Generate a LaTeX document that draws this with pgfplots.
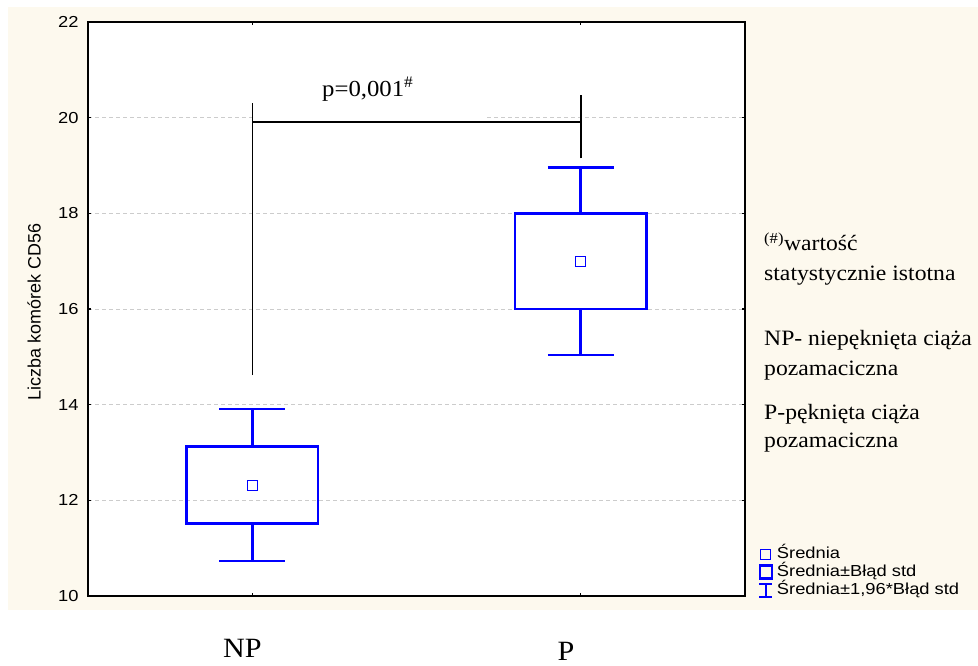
\documentclass[border=0pt]{standalone}
\usepackage{pgfplots}
\pgfplotsset{compat=1.18}
\usepackage{fontspec}
\setmainfont{Liberation Serif}[FakeStretch=1.08]
\setsansfont{Liberation Sans}[FakeStretch=1.15]
\newfontfamily\ylabfont{Liberation Sans}
\definecolor{cream}{RGB}{253,249,238}
\definecolor{statblue}{RGB}{0,0,255}

\begin{document}
\begin{tikzpicture}[x=1bp,y=1bp]
\useasboundingbox (0,0) rectangle (978,666);
% panel background
\fill[cream] (8,56) rectangle (978,659);
\begin{axis}[
  at={(88bp,70bp)}, anchor=south west,
  scale only axis, width=657bp, height=574bp,
  xmin=-0.5, xmax=1.5, ymin=10, ymax=22,
  xtick={0,1}, xticklabels={}, ytick={10,12,...,22},
  tick align=inside, major tick length=3bp,
  every tick/.style={black, line width=1.2bp},
  axis line style={line width=2.4bp},
  axis background/.style={fill=white},
  ymajorgrids,
  grid style={gray!40, line width=0.8bp, dash pattern=on 4bp off 3bp},
  yticklabel style={font=\sffamily\fontsize{16}{19}\selectfont, xshift=-6bp},
  /pgf/number format/assume math mode=true,
  clip=false,
  legend cell align=left,
  legend style={at={(1.0198,0.0889)}, anchor=north west, draw=none, fill=none,
    inner sep=0pt, row sep=0pt, column sep=2.5bp,
    font=\sffamily\fontsize{16}{19}\selectfont,
    nodes={inner sep=1bp, text height=12bp, text depth=4bp}},
]
% legend symbols
\addlegendimage{legend image code/.code={\draw[statblue, line width=1bp] (2bp,-5bp) rectangle (12bp,5bp);}}
\addlegendentry{Średnia}
\addlegendimage{legend image code/.code={\draw[statblue, line width=2.4bp] (1bp,-6.5bp) rectangle (13bp,6.5bp);}}
\addlegendentry{Średnia±Błąd std}
\addlegendimage{legend image code/.code={\draw[statblue, line width=2.2bp] (0.5bp,-6.5bp) -- (13.5bp,-6.5bp) (7bp,-6.5bp) -- (7bp,6.5bp) (0.5bp,6.5bp) -- (13.5bp,6.5bp);}}
\addlegendentry{Średnia±1,96*Błąd std}

% NP group: mean 12.32, box = mean +- SE, whiskers = mean +- 1.96 SE
\addplot[statblue, line width=2.6bp, line join=miter, line cap=rect, forget plot]
  coordinates {(-0.2,11.51) (0.2,11.51) (0.2,13.13) (-0.2,13.13) (-0.2,11.51)};
\addplot[statblue, line width=2.6bp, forget plot] coordinates {(0,11.51) (0,10.73)};
\addplot[statblue, line width=2.6bp, forget plot] coordinates {(-0.1,10.73) (0.1,10.73)};
\addplot[statblue, line width=2.6bp, forget plot] coordinates {(0,13.13) (0,13.91)};
\addplot[statblue, line width=2.6bp, forget plot] coordinates {(-0.1,13.91) (0.1,13.91)};
\addplot[only marks, mark=square*, mark size=5bp, forget plot,
  mark options={fill=white, draw=statblue, line width=0.9bp}] coordinates {(0,12.32)};

% P group: mean 17.0
\addplot[statblue, line width=2.6bp, line join=miter, line cap=rect, forget plot]
  coordinates {(0.8,16.0) (1.2,16.0) (1.2,18.0) (0.8,18.0) (0.8,16.0)};
\addplot[statblue, line width=2.6bp, forget plot] coordinates {(1,16.0) (1,15.04)};
\addplot[statblue, line width=2.6bp, forget plot] coordinates {(0.9,15.04) (1.1,15.04)};
\addplot[statblue, line width=2.6bp, forget plot] coordinates {(1,18.0) (1,18.96)};
\addplot[statblue, line width=2.6bp, forget plot] coordinates {(0.9,18.96) (1.1,18.96)};
\addplot[only marks, mark=square*, mark size=5bp, forget plot,
  mark options={fill=white, draw=statblue, line width=0.9bp}] coordinates {(1,17.0)};

% significance bracket
\fill[white] (axis cs:0.005,19.96) rectangle (axis cs:0.715,21.2);
\addplot[black, line width=1.5bp, forget plot] coordinates {(0,14.62) (0,20.31)};
\addplot[black, line width=1.5bp, forget plot] coordinates {(0,19.91) (1,19.91)};
\addplot[black, line width=1.5bp, forget plot] coordinates {(1,19.15) (1,20.47)};
\end{axis}

\node[anchor=base west, font=\fontsize{23}{27}\selectfont, inner sep=0pt] at (322,569) {p=0,001\textsuperscript{\#}};

\node[rotate=90, font=\ylabfont\fontsize{18}{21}\selectfont] at (34,354) {Liczba komórek CD56};

\begin{scope}[every node/.style={anchor=base west, inner sep=0pt, font=\fontsize{22}{26}\selectfont}]
\node at (764,415) {\textsuperscript{(\#)}wartość};
\node at (764,385) {statystycznie istotna};
\node at (764,320) {NP- niepęknięta ciąża};
\node at (764,290) {pozamaciczna};
\node at (764,246) {P-pęknięta ciąża};
\node at (764,218) {pozamaciczna};
\end{scope}

\node[anchor=base, inner sep=0pt, font=\fontsize{28}{31}\selectfont] at (242.5,8) {NP};
\node[anchor=base, inner sep=0pt, font=\fontsize{28}{31}\selectfont] at (566,5) {P};
\end{tikzpicture}
\end{document}
